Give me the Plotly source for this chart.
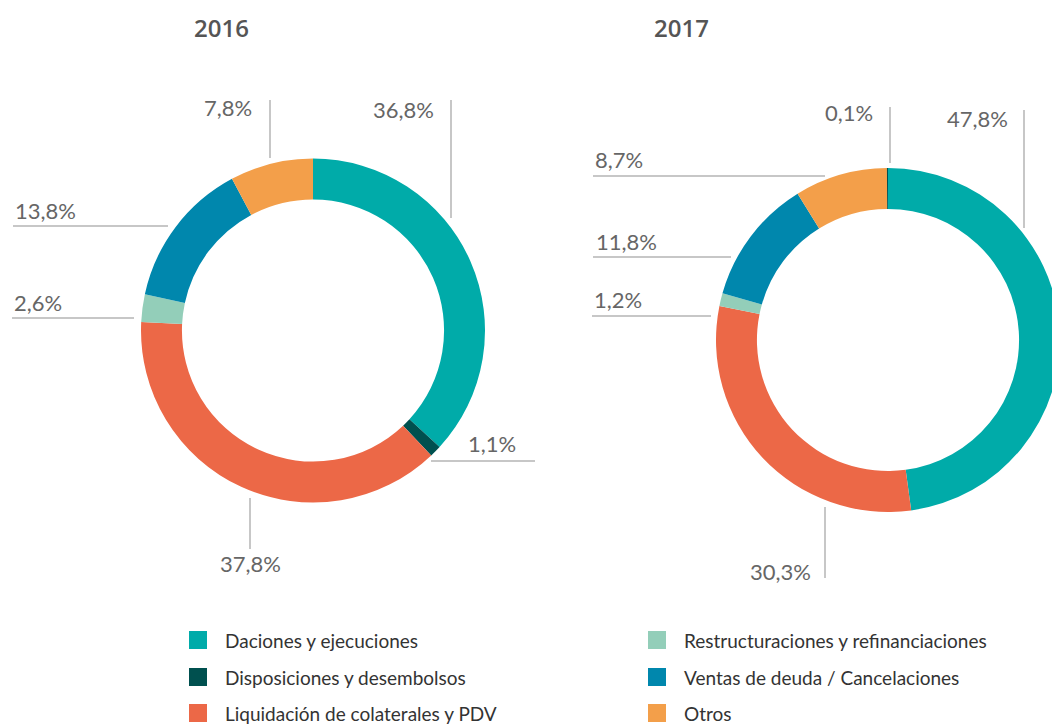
import plotly.graph_objects as go

# ---------------- data ----------------
categories = [
    "Daciones y ejecuciones",
    "Disposiciones y desembolsos",
    "Liquidación de colaterales y PDV",
    "Restructuraciones y refinanciaciones",
    "Ventas de deuda / Cancelaciones",
    "Otros",
]
colors = ["#00ABA9", "#00504F", "#EC6847", "#93CEB9", "#0087AD", "#F39F4A"]

years = ["2016", "2017"]
# slice order clockwise from 12 o'clock
labels_2016 = [categories[0], categories[1], categories[2], categories[3], categories[4], categories[5]]
values_2016 = [36.8, 1.1, 37.8, 2.6, 13.8, 7.8]
labels_2017 = [categories[0], categories[2], categories[3], categories[4], categories[5], categories[1]]
values_2017 = [47.8, 30.3, 1.2, 11.8, 8.7, 0.1]

# ---------------- layout helpers (pixels) ----------------
W, H = 1060, 724
color_map = dict(zip(categories, colors))


def px(x):
    return x / W


def py(y):
    return 1 - y / H


# donut boxes: (left, top, size)
donut_boxes = {"2016": (141, 158.5, 344), "2017": (716, 168, 344)}
title_pos = {"2016": (221.5, 27), "2017": (681, 27)}

# label placement: category -> (text x, xanchor, text y, line x0, y0, x1, y1)
label_layout = {
    "2016": {
        categories[0]: (436, "right", 109, 451, 100, 451, 218),
        categories[1]: (518, "right", 443, 431, 461, 535, 461),
        categories[2]: (218, "left", 563, 250, 498, 250, 549),
        categories[3]: (12, "left", 302, 12, 318, 134, 318),
        categories[4]: (13, "left", 211, 13, 226, 168, 226),
        categories[5]: (254, "right", 108, 270, 100, 270, 158),
    },
    "2017": {
        categories[0]: (1010, "right", 119, 1024, 110, 1024, 228),
        categories[1]: (875, "right", 112, 890, 107, 890, 163),
        categories[2]: (813, "right", 571, 825, 507, 825, 578),
        categories[3]: (592, "left", 300, 592, 316, 711, 316),
        categories[4]: (594, "left", 241, 593, 257, 731, 257),
        categories[5]: (593, "left", 159, 593, 176, 825, 176),
    },
}

legend_cols = [(189, 223), (648, 682)]
legend_rows = [640, 677, 713]

FONT = "Lato"

fig = go.Figure()
data = {"2016": (labels_2016, values_2016), "2017": (labels_2017, values_2017)}
for yr in years:
    labs, vals = data[yr]
    left, top, size = donut_boxes[yr]
    fig.add_trace(
        go.Pie(
            labels=labs,
            values=vals,
            marker=dict(colors=[color_map[l] for l in labs], line=dict(width=0)),
            hole=0.762,
            sort=False,
            direction="clockwise",
            rotation=0,
            textinfo="none",
            hoverinfo="label+percent",
            showlegend=False,
            domain=dict(x=[px(left), px(left + size)], y=[py(top + size), py(top)]),
            name=yr,
        )
    )

annotations = []
shapes = []
for yr in years:
    tx, ty = title_pos[yr]
    annotations.append(
        dict(
            x=px(tx), y=py(ty), xref="paper", yref="paper", text=yr, showarrow=False,
            xanchor="center", yanchor="middle",
            font=dict(family="Open Sans", size=24, color="#555555", weight=600),
        )
    )
    labs, vals = data[yr]
    for lab, val in zip(labs, vals):
        x, xa, y, x0, y0, x1, y1 = label_layout[yr][lab]
        txt = f"{val:.1f}".replace(".", ",") + "%"
        annotations.append(
            dict(
                x=px(x), y=py(y), xref="paper", yref="paper", text=txt, showarrow=False,
                xanchor=xa, yanchor="middle",
                font=dict(family=FONT, size=22, color="#666666"),
            )
        )
        shapes.append(
            dict(
                type="line", xref="paper", yref="paper",
                x0=px(x0), y0=py(y0), x1=px(x1), y1=py(y1),
                line=dict(color="#8f8f8f", width=1),
            )
        )

for i, (cat, col) in enumerate(zip(categories, colors)):
    sx, tx = legend_cols[i // 3]
    ry = legend_rows[i % 3]
    shapes.append(
        dict(
            type="rect", xref="paper", yref="paper",
            x0=px(sx), x1=px(sx + 18), y0=py(ry + 9), y1=py(ry - 9),
            fillcolor=col, line=dict(width=0),
        )
    )
    annotations.append(
        dict(
            x=px(tx), y=py(ry), xref="paper", yref="paper", text=cat, showarrow=False,
            xanchor="left", yanchor="middle",
            font=dict(family=FONT, size=19, color="#333333"),
        )
    )

fig.update_layout(
    width=W,
    height=H,
    margin=dict(l=0, r=0, t=0, b=0),
    paper_bgcolor="white",
    plot_bgcolor="white",
    annotations=annotations,
    shapes=shapes,
    showlegend=False,
)

fig.write_html(
    "out.html",
    config={"displayModeBar": False},
    post_script="document.body.style.margin='0';document.body.style.overflow='hidden';",
)
